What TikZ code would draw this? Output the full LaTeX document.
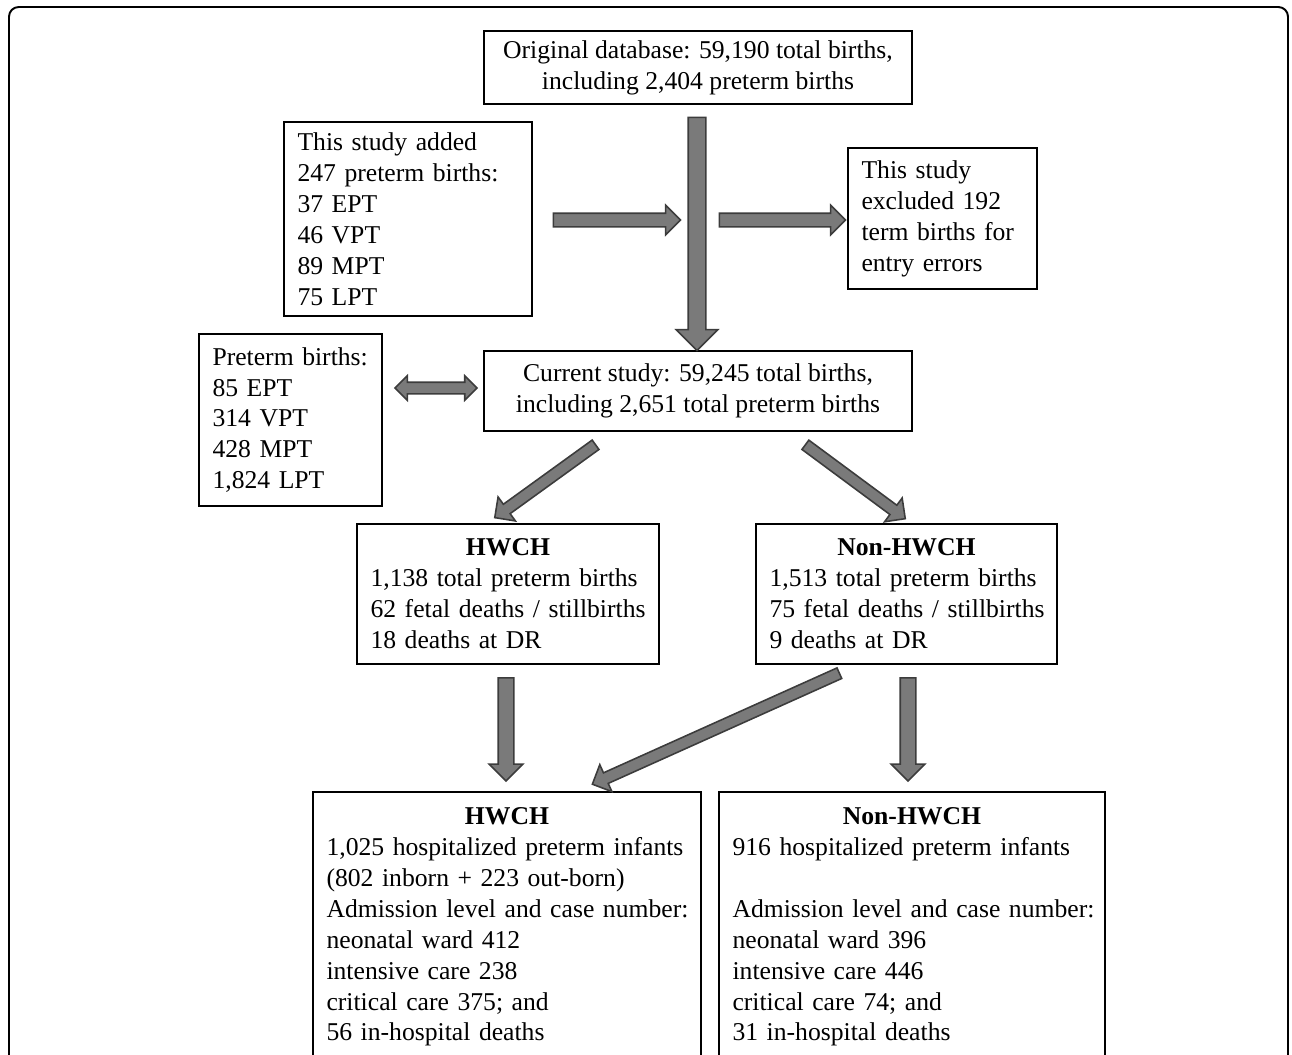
\documentclass[tikz,border=0pt]{standalone}
\usepackage{fontspec}
\setmainfont{Liberation Serif}
\usetikzlibrary{calc,shapes.arrows}

\definecolor{arrowfill}{RGB}{122,122,122}
\definecolor{arrowedge}{RGB}{60,60,60}

\tikzset{
  box/.style={draw, line width=1.1pt, inner xsep=0.27cm, inner ysep=0pt},
  leftbox/.style={box, align=left,
    execute at begin node={\rightskip=0pt plus 1fil minus 2em\hyphenpenalty=10000}},
  fatarrow/.style 2 args={single arrow, draw=arrowedge, fill=arrowfill, line width=0.9pt,
    inner sep=0pt, inner ysep=#1, text height=0pt, text depth=0pt, minimum width=0pt,
    single arrow head extend=#2},
  fatdouble/.style 2 args={double arrow, draw=arrowedge, fill=arrowfill, line width=0.9pt,
    inner sep=0pt, inner ysep=#1, text height=0pt, text depth=0pt, minimum width=0pt,
    double arrow head extend=#2},
}

%% block arrow from #2 to #3, drawn as a node of style #1
\newcommand{\blockarrow}[3]{%
  \path let \p1=($(#3)-(#2)$), \n1={veclen(\x1,\y1)} in
    (#2) -- (#3) node[midway, sloped, allow upside down, minimum height=\n1, #1] {};}
%% centred bold title line inside a left-aligned box
\newcommand{\boxtitle}[1]{\hfill\textbf{#1}\hfill\null\\}

\begin{document}
\begin{tikzpicture}[x=0.02cm,y=-0.02cm,font=\fontsize{14.6}{17.6}\selectfont]
  \useasboundingbox (0,0) rectangle (1292,1055);
  %% frame, open at the bottom
  \draw[line width=1.1pt, rounded corners=5.5pt] (9,1080) -- (9,7) -- (1288,7) -- (1288,1080);

  %% boxes
  \node[box, minimum width=8.56cm, minimum height=1.46cm, align=center] (orig) at (698,67.5)
    {Original database: 59,190 total births,\\ including 2,404 preterm births};
  \node[leftbox, minimum height=3.88cm, text width=4.42cm] (added) at (408,219)
    {This study added\\ 247 preterm births:\\ 37 EPT\\ 46 VPT\\ 89 MPT\\ 75 LPT};
  \node[leftbox, minimum height=2.82cm, text width=3.24cm] (excl) at (942.5,218.5)
    {This study\\ excluded 192\\ term births for\\ entry errors};
  \node[box, minimum width=8.56cm, minimum height=1.6cm, align=center] (curr) at (698,391)
    {Current study: 59,245 total births,\\ including 2,651 total preterm births};
  \node[leftbox, minimum height=3.44cm, text width=3.12cm] (pre) at (290.5,420)
    {Preterm births:\\ 85 EPT\\ 314 VPT\\ 428 MPT\\ 1,824 LPT};
  \node[leftbox, minimum height=2.8cm, text width=5.5cm] (hw1) at (508,594)
    {\boxtitle{HWCH}1,138 total preterm births\\ 62 fetal deaths / stillbirths\\ 18 deaths at DR};
  \node[leftbox, minimum height=2.8cm, text width=5.48cm] (nh1) at (906.5,594)
    {\boxtitle{Non-HWCH}1,513 total preterm births\\ 75 fetal deaths / stillbirths\\ 9 deaths at DR};
  \node[leftbox, anchor=north, inner ysep=0.2cm, text height=0.45cm, text depth=5cm, text width=7.22cm] (hw2) at (507,791)
    {\boxtitle{HWCH}1,025 hospitalized preterm infants\\ (802 inborn + 223 out-born)\\
     Admission level and case number:\\ neonatal ward 412\\ intensive care 238\\ critical care 375; and\\ 56 in-hospital deaths};
  \node[leftbox, anchor=north, inner ysep=0.2cm, text height=0.45cm, text depth=5cm, text width=7.18cm] (nh2) at (912,791)
    {\boxtitle{Non-HWCH}916 hospitalized preterm infants\\[17.6pt]
     Admission level and case number:\\ neonatal ward 396\\ intensive care 446\\ critical care 74; and\\ 31 in-hospital deaths};

  %% arrow ends
  \coordinate (m0) at (697,113);  \coordinate (m1) at (697,346);
  \coordinate (a0) at (550,220);  \coordinate (a1) at (677,220);
  \coordinate (e0) at (716,220);  \coordinate (e1) at (842,220);
  \coordinate (p0) at (395,388);  \coordinate (p1) at (477,388);
  \coordinate (l0) at (598,443);  \coordinate (l1) at (497,516);
  \coordinate (r0) at (803,443);  \coordinate (r1) at (903,517);
  \coordinate (h0) at (506,674);  \coordinate (h1) at (506,777);
  \coordinate (x0) at (842,672);  \coordinate (x1) at (595,783);
  \coordinate (n0) at (908,674);  \coordinate (n1) at (908,777);

  %% arrows
  \blockarrow{fatarrow={0.16cm}{0.24cm}}{m0}{m1}
  \blockarrow{fatarrow={0.12cm}{0.16cm}}{a0}{a1}
  \blockarrow{fatarrow={0.12cm}{0.16cm}}{e0}{e1}
  \blockarrow{fatdouble={0.1cm}{0.13cm}}{p0}{p1}
  \blockarrow{fatarrow={0.1cm}{0.18cm}}{l0}{l1}
  \blockarrow{fatarrow={0.1cm}{0.18cm}}{r0}{r1}
  \blockarrow{fatarrow={0.14cm}{0.18cm}}{h0}{h1}
  \blockarrow{fatarrow={0.1cm}{0.18cm}}{x0}{x1}
  \blockarrow{fatarrow={0.14cm}{0.18cm}}{n0}{n1}
\end{tikzpicture}
\end{document}
